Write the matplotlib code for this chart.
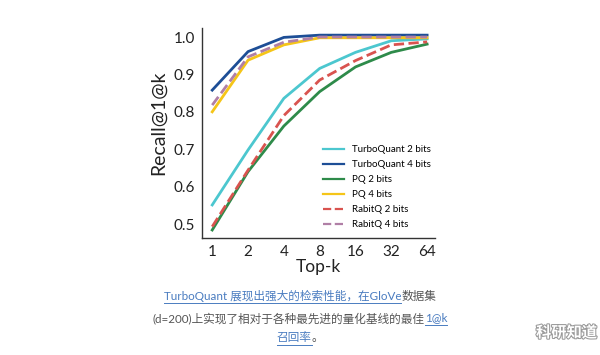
import numpy as np
import matplotlib.pyplot as plt
import matplotlib.patheffects as pe

plt.rcParams['font.family'] = ['Lato', 'Noto Sans CJK SC', 'DejaVu Sans']

topk = [1, 2, 4, 8, 16, 32, 64]
tq2 = [0.551, 0.698, 0.836, 0.916, 0.959, 0.990, 0.995]
tq4 = [0.858, 0.961, 0.999, 1.005, 1.005, 1.005, 1.005]
pq2 = [0.484, 0.640, 0.762, 0.854, 0.920, 0.959, 0.981]
pq4 = [0.800, 0.938, 0.979, 0.998, 0.998, 0.998, 0.998]
rq2 = [0.493, 0.644, 0.790, 0.885, 0.937, 0.979, 0.987]
rq4 = [0.818, 0.947, 0.986, 1.000, 1.000, 1.000, 1.000]
yticks = [0.5, 0.6, 0.7, 0.8, 0.9, 1.0]

series = [
    ("TurboQuant 2 bits", tq2, "#4cc7cf", "-"),
    ("TurboQuant 4 bits", tq4, "#1d4e96", "-"),
    ("PQ 2 bits", pq2, "#2e8b4a", "-"),
    ("PQ 4 bits", pq4, "#f5c518", "-"),
    ("RabitQ 2 bits", rq2, "#d9534f", "--"),
    ("RabitQ 4 bits", rq4, "#b07fa6", "--"),
]

fig = plt.figure(figsize=(6, 3.55), dpi=100)
ax = fig.add_axes([0.337, 0.330, 0.388, 0.591])
idx = np.arange(len(topk))
for name, vals, col, ls in series:
    ax.plot(idx, vals, color=col, linestyle=ls, linewidth=2, label=name)

ax.set_xlim(-0.28, 6.22)
ax.set_ylim(0.463, 1.024)
ax.set_xticks(idx)
ax.set_xticklabels([str(k) for k in topk])
ax.set_yticks(yticks)
ax.tick_params(length=0, labelsize=11, colors="#222222", pad=5)
for s in ["top", "right"]:
    ax.spines[s].set_visible(False)
for s in ["left", "bottom"]:
    ax.spines[s].set_color("#333333")
    ax.spines[s].set_linewidth(1)
ax.set_xlabel("Top-k", fontsize=12.5, color="#222222", labelpad=0)
ax.set_ylabel("Recall@1@k", fontsize=14, color="#222222")
ax.yaxis.set_label_coords(-0.15, 0.55)
leg = ax.legend(loc="lower right", frameon=False, fontsize=7, handlelength=2.2,
                labelspacing=0.62, bbox_to_anchor=(1.02, 0.0))
for h in leg.legend_handles:
    h.set_linewidth(1.6)

# caption with coloured / underlined pieces
blue = "#4a7cc0"
gray = "#555555"
lines = [
    (296, [("TurboQuant 展现出强大的检索性能，在GloVe", blue, True), ("数据集", gray, False)]),
    (318, [("(d=200)上实现了相对于各种最先进的量化基线的最佳", gray, False), ("1@k", blue, True)]),
    (338, [("召回率", blue, True), ("。", gray, False)]),
]
fig.canvas.draw()
r = fig.canvas.get_renderer()
W, H = 600, 355
for ypix, parts in lines:
    texts = []
    total = 0
    for s, c, u in parts:
        t = fig.text(0, 1 - ypix / H, s, color=c, fontsize=8.4, va="center", ha="left")
        w = t.get_window_extent(r).width
        texts.append((t, w, u, c))
        total += w
    x = (W - total) / 2
    for t, w, u, c in texts:
        t.set_x(x / W)
        if u:
            yl = 1 - (ypix + 7) / H
            fig.add_artist(plt.Line2D([x / W, (x + w) / W], [yl, yl], color=c, lw=0.7,
                                      transform=fig.transFigure))
        x += w

fig.text(597 / W, 1 - 333 / H, "科研知道", ha="right", va="center", fontsize=11,
         color="white", fontweight="bold",
         path_effects=[pe.withStroke(linewidth=1.5, foreground="#999999")])

fig.savefig("out.png", dpi=100)
